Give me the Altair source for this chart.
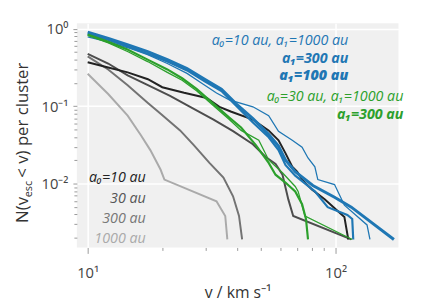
import altair as alt
import pandas as pd

# ---------------- data ----------------
# grey curves: single orbit a0
v_a0_10 = [10, 12.1, 14.5, 17.5, 20.0, 24.5, 30.2, 34.0, 38.0, 46.4, 53.7, 58.9, 62.8, 66.9, 70.0, 73.3, 80.3, 90.4, 108.6, 112.6]
n_a0_10 = [0.370, 0.317, 0.2735, 0.223, 0.176, 0.149, 0.128, 0.0983, 0.0849, 0.0672, 0.0487, 0.0363, 0.0248, 0.0165, 0.01425, 0.01128, 0.00841, 0.00628, 0.00371, 0.0019]

v_a0_30 = [10, 12.1, 14.5, 17.5, 21.5, 26.8, 32.2, 38.6, 46.4, 52.3, 57.3, 61.1, 64.5, 67.5, 115.8]
n_a0_30 = [0.473, 0.356, 0.2506, 0.187, 0.1356, 0.0927, 0.0672, 0.0477, 0.0323, 0.0221, 0.018, 0.01303, 0.00626, 0.00382, 0.0019]

v_a0_300 = [10, 12.1, 14.5, 17.5, 19.7, 23.6, 26.8, 31.0, 35.3, 38.6, 40.8, 42.0]
n_a0_300 = [0.441, 0.2987, 0.187, 0.1104, 0.080, 0.0487, 0.0314, 0.01854, 0.01195, 0.00686, 0.00382, 0.0019]

v_a0_1000 = [10, 12.1, 14.5, 16.4, 17.9, 19.7, 20.4, 33.1, 35.9, 36.6]
n_a0_1000 = [0.263, 0.1437, 0.0755, 0.0421, 0.0271, 0.0151, 0.01128, 0.00592, 0.00382, 0.0019]

# blue curves: a0 = 10 au
v_b_1000 = [10, 12.12, 14.55, 17.46, 20.96, 25.17, 28.86, 33.1, 37.27, 46.42, 53.74, 58.88, 66.9, 73.3, 77.45, 82.54, 84.83, 99.1, 108.6, 134.0, 137.7]
n_b_1000 = [0.784, 0.678, 0.569, 0.463, 0.356, 0.2657, 0.1983, 0.148, 0.1206, 0.0983, 0.0755, 0.0473, 0.0363, 0.0296, 0.02146, 0.0165, 0.01127, 0.00974, 0.00527, 0.00293, 0.0019]

v_b_300 = [10, 12.12, 14.55, 17.46, 20.96, 25.17, 29.66, 34.65, 39.73, 46.42, 53.74, 58.88, 62.79, 68.77, 82.54, 92.97, 111.6, 116.8, 117.9]
n_b_300 = [0.856, 0.719, 0.586, 0.477, 0.3775, 0.290, 0.2102, 0.157, 0.1012, 0.0615, 0.0397, 0.0271, 0.01748, 0.01267, 0.00794, 0.00497, 0.00393, 0.0035, 0.0019]

v_b_100 = [10, 12.12, 14.55, 17.46, 20.96, 25.17, 29.66, 34.65, 39.73, 46.42, 53.74, 58.88, 62.79, 68.77, 81.0, 99.1, 115.8, 172.0]
n_b_100 = [0.908, 0.751, 0.621, 0.506, 0.400, 0.3076, 0.2229, 0.1664, 0.1073, 0.0692, 0.0433, 0.0305, 0.02024, 0.01425, 0.00946, 0.00666, 0.00497, 0.0019]

# green curves: a0 = 30 au
v_g_1000 = [10, 12.12, 14.55, 17.46, 20.96, 24.04, 27.57, 32.2, 37.27, 41.59, 49.03, 53.74, 61.07, 68.77, 70.66, 73.96, 75.34, 116.8]
n_g_1000 = [0.820, 0.658, 0.506, 0.3775, 0.2735, 0.2165, 0.157, 0.1012, 0.0672, 0.0487, 0.0363, 0.02024, 0.01384, 0.00919, 0.00794, 0.00469, 0.00382, 0.0019]

v_g_300 = [10, 12.12, 14.55, 17.46, 20.96, 24.04, 27.57, 32.2, 37.27, 41.59, 47.7, 53.74, 57.28, 62.79, 68.77, 73.3, 76.0, 77.45]
n_g_300 = [0.844, 0.678, 0.536, 0.400, 0.2987, 0.2296, 0.1664, 0.1073, 0.0712, 0.0531, 0.0314, 0.01853, 0.01305, 0.01033, 0.00794, 0.00543, 0.0035, 0.0019]

# tick values
x_major = [10, 100]
x_minor = [20, 30, 40, 50, 60, 70, 80, 90]
y_major = [0.01, 0.1, 1]
y_minor = [0.002, 0.003, 0.004, 0.005, 0.006, 0.007, 0.008, 0.009,
           0.02, 0.03, 0.04, 0.05, 0.06, 0.07, 0.08, 0.09,
           0.2, 0.3, 0.4, 0.5, 0.6, 0.7, 0.8, 0.9]

# annotation labels: (text, v, N)
blue_labels = [("a₀=10 au, a₁=1000 au", 112.6, 0.698),
               ("a₁=300 au", 112.6, 0.406),
               ("a₁=100 au", 112.6, 0.243)]
green_labels = [("a₀=30 au, a₁=1000 au", 187.8, 0.1316),
                ("a₁=300 au", 187.8, 0.0777)]
grey_labels = [("a₀=10 au", 17.15, 0.01195),
               ("30 au", 17.15, 0.00628),
               ("300 au", 17.15, 0.0035),
               ("1000 au", 17.15, 0.00195)]

# ---------------- styling ----------------
FONT = "Open Sans"
BLUE = "#1f77b4"
GREEN = "#2ca02c"

xscale = alt.Scale(type="log", domain=[9.045, 179.5], nice=False)
yscale = alt.Scale(type="log", domain=[0.001497, 1.181], nice=False)

x_test = "datum.value == 10 || datum.value == 100"
y_test = "datum.value == 1 || datum.value == 0.1 || datum.value == 0.01"

xaxis = alt.Axis(
    values=x_major + x_minor,
    labelExpr="datum.value == 10 ? '10¹' : datum.value == 100 ? '10²' : ''",
    tickSize={"condition": {"test": x_test, "value": 6}, "value": 3},
    gridOpacity={"condition": {"test": x_test, "value": 1}, "value": 0},
    labelFlush=False,
    labelPadding=13,
    titlePadding=4,
)
yaxis = alt.Axis(
    values=y_major + y_minor,
    labelExpr="datum.value == 1 ? '10⁰' : datum.value == 0.1 ? '10⁻¹' : datum.value == 0.01 ? '10⁻²' : ''",
    tickSize={"condition": {"test": y_test, "value": 4}, "value": 3},
    gridOpacity={"condition": {"test": y_test, "value": 1}, "value": 0},
    labelFlush=False,
    labelPadding=5,
)

XT = "v / km s⁻¹"


def line(v, n, color, width):
    df = pd.DataFrame({"v": v, "N": n})
    return alt.Chart(df).mark_line(color=color, strokeWidth=width, clip=True).encode(
        x=alt.X("v:Q", scale=xscale, axis=xaxis, title=XT),
        y=alt.Y("N:Q", scale=yscale, axis=yaxis, title=None),
    )


def label(text, v, n, color, weight):
    df = pd.DataFrame({"v": [v], "N": [n], "t": [text]})
    return alt.Chart(df).mark_text(
        align="right", baseline="middle", font=FONT, fontSize=14.5,
        fontStyle="italic", fontWeight=weight, color=color,
    ).encode(
        x=alt.X("v:Q", scale=xscale, axis=xaxis, title=XT),
        y=alt.Y("N:Q", scale=yscale, axis=yaxis, title=None),
        text="t:N",
    )


def ytitle_piece(text, xpos, ypos, size):
    df = pd.DataFrame({"t": [text]})
    return alt.Chart(df).mark_text(
        align="left", baseline="alphabetic", angle=270, font=FONT,
        fontSize=size, color="#333",
    ).encode(x=alt.value(xpos), y=alt.value(ypos), text="t:N")


layers = [
    line(v_a0_1000, n_a0_1000, "#aaaaaa", 2),
    line(v_a0_300, n_a0_300, "#737373", 2),
    line(v_a0_30, n_a0_30, "#4d4d4d", 2),
    line(v_a0_10, n_a0_10, "#222222", 2),
    line(v_b_1000, n_b_1000, BLUE, 1.3),
    line(v_b_300, n_b_300, BLUE, 2.2),
    line(v_b_100, n_b_100, BLUE, 3),
    line(v_g_1000, n_g_1000, GREEN, 1.3),
    line(v_g_300, n_g_300, GREEN, 2.2),
]

weights = ["normal", "bold", 900]
for (t, v, n), w in zip(blue_labels, weights):
    layers.append(label(t, v, n, BLUE, w))
for (t, v, n), w in zip(green_labels, weights):
    layers.append(label(t, v, n, GREEN, w))
for (t, v, n), c in zip(grey_labels, ["#222222", "#555555", "#777777", "#aaaaaa"]):
    layers.append(label(t, v, n, c, "normal"))

# y-axis title with subscript, built from pieces
layers.append(ytitle_piece("N(v", -50, 203, 17))
layers.append(ytitle_piece("esc", -46, 177, 11))
layers.append(ytitle_piece(" < v) per cluster", -50, 157, 17))

chart = alt.layer(*layers).properties(
    width=327,
    height=228,
    autosize=alt.AutoSizeParams(type="none"),
    padding={"left": 70, "top": 13, "right": 30, "bottom": 55},
).configure_view(
    fill="#f0f0f0", stroke=None
).configure_axis(
    labelFont=FONT, titleFont=FONT, labelFontSize=15, titleFontSize=16,
    titleFontWeight="normal", labelColor="#444", titleColor="#333",
    tickColor="#999", gridColor="white", gridWidth=1.5, domain=False,
)

chart.save("out.html", embed_options={"renderer": "svg", "actions": False})
